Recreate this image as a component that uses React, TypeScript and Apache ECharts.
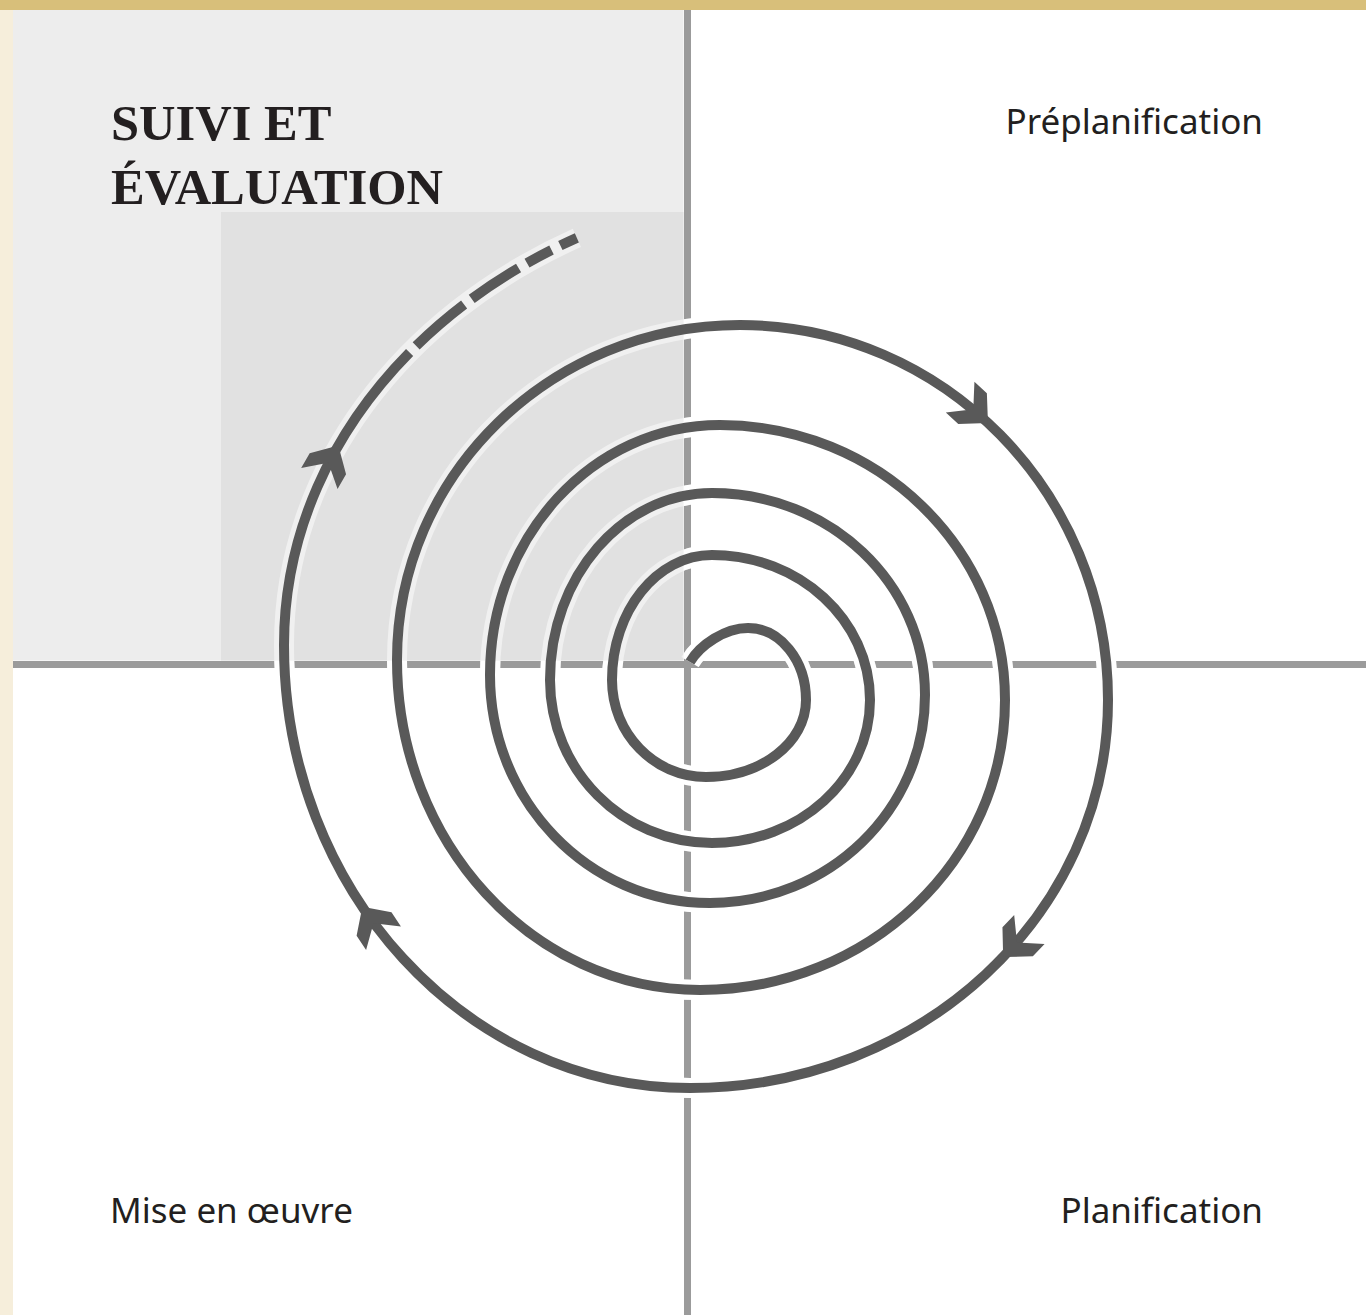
import React, { useEffect, useRef } from "react";
import * as echarts from "echarts";

// Data units: X = px - 687, Y = 664 - py (the two quadrant axes cross at 0,0)
const X_RANGE = [-687, 679];
const Y_RANGE = [-651, 664];

const titleLines = ["SUIVI ET", "ÉVALUATION"];
const quadrantLabels = ["Préplanification", "Planification", "Mise en œuvre"];

// shaded zones of the "Suivi et évaluation" quadrant: [x0, y0, x1, y1]
const shadedRects = [
  [-674, 3.5, -3.5, 654],
  [-466, 3.5, -3.5, 452],
];
const shadedColors = ["#ededed", "#e1e1e1"];

// spiral: start point, its two handles, then the extreme points (top, right, bottom, left, ...)
const spiralStart = [3, 2];
const spiralStartHandles = [
  [13, 19],
  [38, 36],
];
const spiralExtremes = [
  [61, 36], [119, -36], [19, -113], [-75, -16],
  [25, 109], [183, -36], [25, -179], [-137, -16],
  [25, 171], [238, -31], [23, -239], [-197, -11],
  [33, 239], [318, -36], [13, -326], [-290, 4],
  [53, 339], [421, -36], [3, -424], [-403, 19],
  [153, 481],
];
// the last quarter is only drawn up to this parameter
const SPIRAL_END_T = 0.69;
// dark stroke pieces along the last quarter (parameter ranges); gaps show the halo
const lastDashes = [
  [0, 0.435],
  [0.447, 0.528],
  [0.54, 0.61],
  [0.622, 0.656],
  [0.668, 0.69],
];
// arrow heads: [segment index, parameter]
const arrowMarks = [
  [17, 0.47],
  [18, 0.46],
  [19, 0.6],
  [20, 0.28],
];

const K = 0.5523;
type Pt = number[];
const lerp = (a: Pt, b: Pt, t: number): Pt => [a[0] + (b[0] - a[0]) * t, a[1] + (b[1] - a[1]) * t];
function splitLeft(b: Pt[], t: number): Pt[] {
  const [p0, p1, p2, p3] = b;
  const a = lerp(p0, p1, t), m = lerp(p1, p2, t), c = lerp(p2, p3, t);
  const d = lerp(a, m, t), e = lerp(m, c, t);
  return [p0, a, d, lerp(d, e, t)];
}
function splitRight(b: Pt[], t: number): Pt[] {
  const [p0, p1, p2, p3] = b;
  const a = lerp(p0, p1, t), m = lerp(p1, p2, t), c = lerp(p2, p3, t);
  const d = lerp(a, m, t), e = lerp(m, c, t);
  return [lerp(d, e, t), e, c, p3];
}
function subCurve(b: Pt[], t0: number, t1: number): Pt[] {
  const left = splitLeft(b, t1);
  return t0 <= 0 ? left : splitRight(left, t0 / t1);
}
function pointAt(b: Pt[], t: number): Pt {
  const mt = 1 - t;
  const c0 = mt * mt * mt, c1 = 3 * mt * mt * t, c2 = 3 * mt * t * t, c3 = t * t * t;
  return [
    c0 * b[0][0] + c1 * b[1][0] + c2 * b[2][0] + c3 * b[3][0],
    c0 * b[0][1] + c1 * b[1][1] + c2 * b[2][1] + c3 * b[3][1],
  ];
}
function tangentAt(b: Pt[], t: number): Pt {
  const mt = 1 - t;
  const a = 3 * mt * mt, c = 6 * mt * t, d = 3 * t * t;
  return [
    a * (b[1][0] - b[0][0]) + c * (b[2][0] - b[1][0]) + d * (b[3][0] - b[2][0]),
    a * (b[1][1] - b[0][1]) + c * (b[2][1] - b[1][1]) + d * (b[3][1] - b[2][1]),
  ];
}

function buildSegments(coord: (p: Pt) => Pt): Pt[][] {
  const E = spiralExtremes.map((p) => coord(p));
  const segs: Pt[][] = [];
  segs.push([coord(spiralStart), coord(spiralStartHandles[0]), coord(spiralStartHandles[1]), E[0]]);
  for (let j = 1; j < E.length; j++) {
    const a = E[j - 1], b = E[j];
    const i = j - 1;
    let p1: Pt, p2: Pt;
    if (i % 2 === 0) {
      // top / bottom: horizontal tangent
      p1 = [a[0] + K * (b[0] - a[0]), a[1]];
      p2 = [b[0], b[1] + K * (a[1] - b[1])];
    } else {
      p1 = [a[0], a[1] + K * (b[1] - a[1])];
      p2 = [b[0] + K * (a[0] - b[0]), b[1]];
    }
    segs.push([a, p1, p2, b]);
  }
  return segs;
}
const f = (n: number) => n.toFixed(2);
const cmd = (b: Pt[]) => ` C${f(b[1][0])},${f(b[1][1])} ${f(b[2][0])},${f(b[2][1])} ${f(b[3][0])},${f(b[3][1])}`;
const mv = (p: Pt) => `M${f(p[0])},${f(p[1])}`;

function spiralPaths(coord: (p: Pt) => Pt) {
  const segs = buildSegments(coord);
  const last = segs[segs.length - 1];
  const full = segs.slice(0, segs.length - 1);
  let main = mv(full[0][0]);
  full.forEach((b) => (main += cmd(b)));
  const halo = main + cmd(subCurve(last, 0, SPIRAL_END_T));
  let dark = main + cmd(subCurve(last, lastDashes[0][0], lastDashes[0][1]));
  for (let i = 1; i < lastDashes.length; i++) {
    const b = subCurve(last, lastDashes[i][0], lastDashes[i][1]);
    dark += " " + mv(b[0]) + cmd(b);
  }
  return { segs, halo, dark };
}

const arrowShape = [
  [0, 0],
  [-21, 21],
  [-38, 21],
  [-20, 0],
  [-38, -21],
  [-21, -21],
];

const DARK = "#595959";

export default function App() {
  const ref = useRef<HTMLDivElement>(null);
  useEffect(() => {
    document.body.style.margin = "0";
    const chart = echarts.init(ref.current!, null, { renderer: "svg" });
    const hiddenAxisParts = {
      axisLabel: { show: false },
      axisTick: { show: false },
      splitLine: { show: false },
    };
    const option: any = {
      animation: false,
      backgroundColor: "#ffffff",
      grid: { left: 0, right: 0, top: 0, bottom: 0 },
      xAxis: {
        type: "value",
        min: X_RANGE[0],
        max: X_RANGE[1],
        axisLine: { show: true, onZero: true, lineStyle: { color: "#9b9b9b", width: 7 } },
        ...hiddenAxisParts,
        z: 0,
      },
      yAxis: {
        type: "value",
        min: Y_RANGE[0],
        max: Y_RANGE[1],
        axisLine: { show: true, onZero: true, lineStyle: { color: "#9b9b9b", width: 7 } },
        ...hiddenAxisParts,
        z: 0,
      },
      series: [
        {
          type: "custom",
          name: "halo-base",
          z: 1,
          silent: true,
          data: [[0, 0]],
          renderItem: (params: any, api: any) => {
            const { halo } = spiralPaths((p) => api.coord(p));
            return {
              type: "path",
              shape: { pathData: halo },
              style: { fill: "none", stroke: "#ffffff", lineWidth: 20 },
            };
          },
        },
        {
          type: "custom",
          name: "zones",
          z: 2,
          silent: true,
          data: shadedRects,
          encode: { x: [0, 2], y: [1, 3] },
          renderItem: (params: any, api: any) => {
            const a = api.coord([api.value(0), api.value(3)]);
            const b = api.coord([api.value(2), api.value(1)]);
            return {
              type: "rect",
              shape: { x: a[0], y: a[1], width: b[0] - a[0], height: b[1] - a[1] },
              style: { fill: shadedColors[params.dataIndex] },
            };
          },
        },
        {
          type: "custom",
          name: "spiral",
          z: 3,
          silent: true,
          data: [[0, 0]],
          renderItem: (params: any, api: any) => {
            const { segs, halo, dark } = spiralPaths((p) => api.coord(p));
            const children: any[] = [
              {
                type: "path",
                shape: { pathData: halo },
                style: { fill: "none", stroke: "rgba(255,255,255,0.5)", lineWidth: 20 },
              },
              {
                type: "path",
                shape: { pathData: dark },
                style: { fill: "none", stroke: DARK, lineWidth: 10, lineCap: "butt", lineJoin: "round" },
              },
            ];
            arrowMarks.forEach(([si, t]) => {
              const b = segs[si];
              const p = pointAt(b, t);
              const tg = tangentAt(b, t);
              const len = Math.hypot(tg[0], tg[1]);
              const u = [tg[0] / len, tg[1] / len];
              const v = [-u[1], u[0]];
              const pts = arrowShape.map(([a, c]) => [p[0] + a * u[0] + c * v[0], p[1] + a * u[1] + c * v[1]]);
              children.push({ type: "polygon", shape: { points: pts }, style: { fill: DARK } });
            });
            return { type: "group", children };
          },
        },
      ],
      graphic: [
        { type: "rect", left: 0, top: 0, z: 10, shape: { width: 1366, height: 10 }, style: { fill: "#d8bf7a" } },
        { type: "rect", left: 0, top: 10, z: 10, shape: { width: 13, height: 1305 }, style: { fill: "#f6eedb" } },
        {
          type: "text",
          x: 111,
          y: 123,
          z: 10,
          style: {
            text: titleLines[0],
            font: 'bold 50.5px "Liberation Serif"',
            fill: "#231f20",
            verticalAlign: "middle",
          },
        },
        {
          type: "text",
          x: 111,
          y: 187,
          z: 10,
          style: {
            text: titleLines[1],
            font: 'bold 50.5px "Liberation Serif"',
            fill: "#231f20",
            verticalAlign: "middle",
          },
        },
        {
          type: "text",
          x: 1263,
          y: 120,
          z: 10,
          style: {
            text: quadrantLabels[0],
            font: '35px "Noto Sans"',
            fill: "#231f20",
            align: "right",
            verticalAlign: "middle",
          },
        },
        {
          type: "text",
          x: 1263,
          y: 1209,
          z: 10,
          style: {
            text: quadrantLabels[1],
            font: '35px "Noto Sans"',
            fill: "#231f20",
            align: "right",
            verticalAlign: "middle",
          },
        },
        {
          type: "text",
          x: 110,
          y: 1209,
          z: 10,
          style: {
            text: quadrantLabels[2],
            font: '35px "Noto Sans"',
            fill: "#231f20",
            align: "left",
            verticalAlign: "middle",
          },
        },
      ],
    };
    chart.setOption(option);
    return () => chart.dispose();
  }, []);
  return <div ref={ref} style={{ width: 1366, height: 1315 }} />;
}
